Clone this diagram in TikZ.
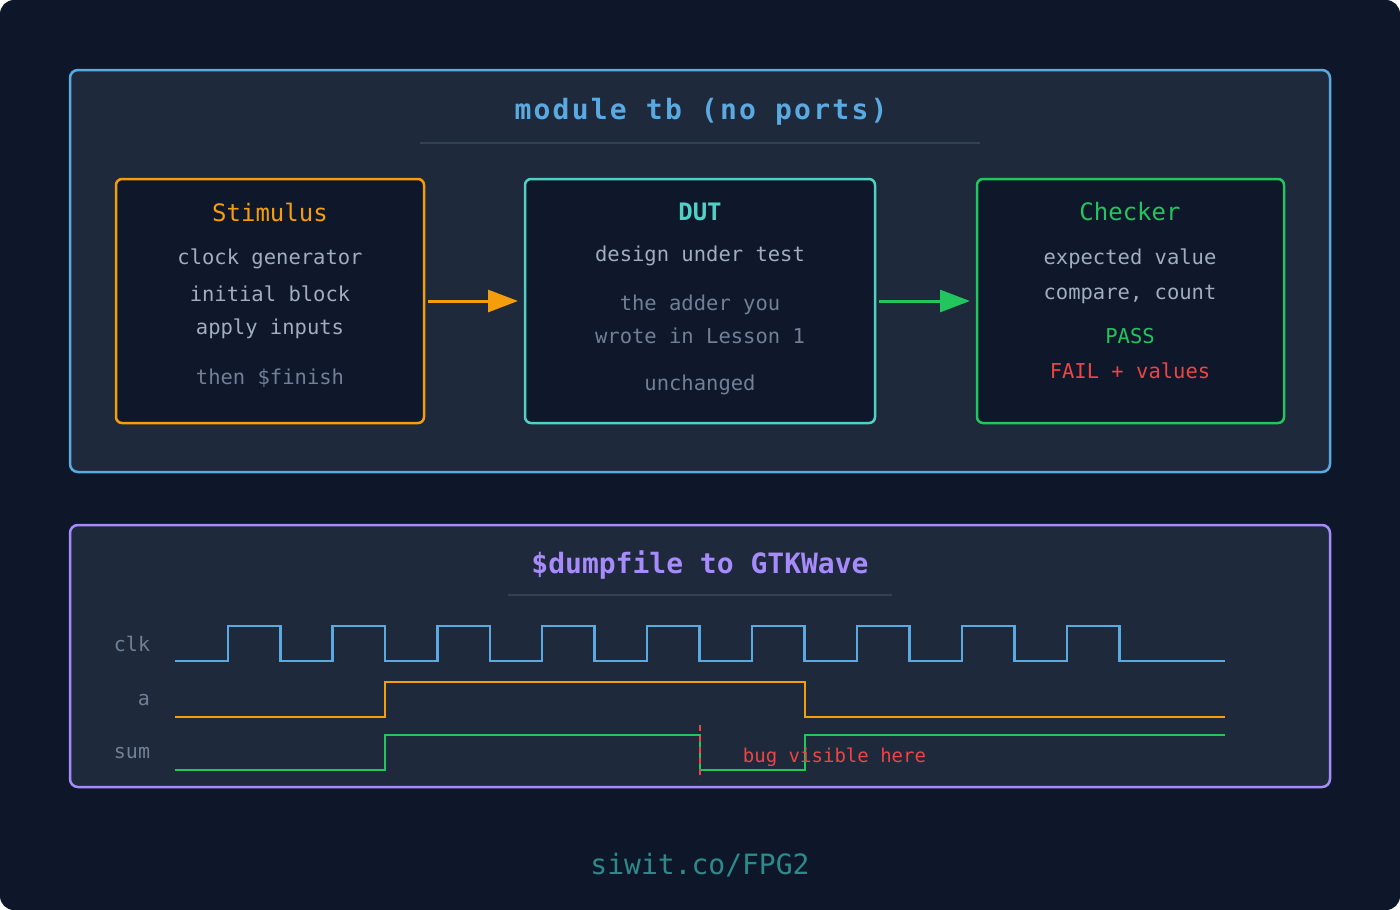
\documentclass[tikz,border=0pt]{standalone}
\usepackage{fontspec}
\setmainfont{DejaVu Sans Mono}
\usetikzlibrary{arrows.meta}
\definecolor{bg}{HTML}{0E1729}
\definecolor{panel}{HTML}{1E293B}
\definecolor{inner}{HTML}{0F172A}
\definecolor{blu}{HTML}{5AA9E0}
\definecolor{org}{HTML}{F59E0B}
\definecolor{teal}{HTML}{4FD1C5}
\definecolor{grn}{HTML}{22C55E}
\definecolor{pur}{HTML}{A78BFA}
\definecolor{txt}{HTML}{A0AEC0}
\definecolor{dim}{HTML}{718096}
\definecolor{redc}{HTML}{EF4444}
\definecolor{foot}{HTML}{2C8A8A}
\definecolor{divc}{HTML}{334155}
\tikzset{
 box/.style={rounded corners=6pt,line width=2.5pt,fill=inner},
 t/.style={font=\fontsize{20.5}{24}\selectfont,text=txt},
 d/.style={font=\fontsize{20.5}{24}\selectfont,text=dim},
 h/.style={font=\fontsize{24}{28}\selectfont},
 wave/.style={line width=2.2pt},
 arr/.style={line width=3pt,-{Triangle[length=30pt,width=22pt]}}
}
\begin{document}
\begin{tikzpicture}[x=1pt,y=-1pt]
\fill[bg,rounded corners=14pt] (0,0) rectangle (1400,910);
\useasboundingbox (0,0) rectangle (1400,910);
% top panel
\draw[panel,fill=panel,rounded corners=8pt,draw=blu,line width=2.5pt] (70,70) rectangle (1330,472);
\node[font=\bfseries\fontsize{28}{32}\selectfont\addfontfeature{LetterSpace=8},text=blu] (title) at (701,112) {module tb (no ports)};
\draw[divc,line width=1.5pt] (420,143) -- (980,143);
\draw[box,draw=org] (116,179) rectangle (424,423);
\draw[box,draw=teal] (525,179) rectangle (875,423);
\draw[box,draw=grn] (977,179) rectangle (1284,423);
\coordinate (s) at (424,301); \coordinate (du) at (525,301);
\coordinate (du2) at (875,301); \coordinate (c) at (977,301);
\draw[arr,org] ([xshift=4pt]s) -- ([xshift=-7pt]du);
\draw[arr,grn] ([xshift=4pt]du2) -- ([xshift=-7pt]c);
\node[h,text=org] (st) at (270,212) {Stimulus};
\node[t] (s1) at (270,259) {clock generator};
\node[t] (s2) at (270,294) {initial block};
\node[t] (s3) at (270,329) {apply inputs};
\node[d] (s4) at (270,378) {then \$finish};
\node[h,font=\bfseries\fontsize{24}{28}\selectfont,text=teal] (dt) at (700,212) {DUT};
\node[t] (d1) at (700,256) {design under test};
\node[d] (d2) at (700,305) {the adder you};
\node[d] (d3) at (700,336) {wrote in Lesson 1};
\node[d] (d4) at (700,385) {unchanged};
\node[h,text=grn] (ct) at (1130,212) {Checker};
\node[t] (c1) at (1130,259) {expected value};
\node[t] (c2) at (1130,294) {compare, count};
\node[t,text=grn] (c3) at (1130,336) {PASS};
\node[t,text=redc] (c4) at (1130,371) {FAIL + values};
% bottom panel
\draw[fill=panel,rounded corners=8pt,draw=pur,line width=2.5pt] (70,525) rectangle (1330,787);
\node[font=\bfseries\fontsize{28}{32}\selectfont,text=pur] (t2) at (700,565) {\$dumpfile to GTKWave};
\draw[divc,line width=1.5pt] (508,595) -- (892,595);
\node[d,font=\fontsize{20}{24}\selectfont] (lclk) at (132,644) {clk};
\node[d,font=\fontsize{20}{24}\selectfont] (la) at (144,700) {a};
\node[d,font=\fontsize{20}{24}\selectfont] (ls) at (132,753) {sum};
\draw[wave,blu] (175,661)
 \foreach \r in {228,332.5,437.5,542,647,752,857,962,1067}{ -- (\r,661) -- (\r,626) -- (\r+52.5,626) -- (\r+52.5,661)} -- (1225,661);
\draw[wave,org] (175,717) -- (385,717) -- (385,682) -- (805,682) -- (805,717) -- (1225,717);
\draw[wave,grn] (175,770) -- (385,770) -- (385,735) -- (700,735) -- (700,770) -- (805,770) -- (805,735) -- (1225,735);
\draw[redc,line width=2pt,dash pattern=on 6pt off 5pt] (700,725) -- (700,780);
\node[font=\fontsize{19}{22}\selectfont,text=redc] (bug) at (834.5,757) {bug visible here};
\node[font=\fontsize{28}{32}\selectfont,text=foot] (ft) at (700,865) {siwit.co/FPG2};
\end{tikzpicture}
\end{document}
